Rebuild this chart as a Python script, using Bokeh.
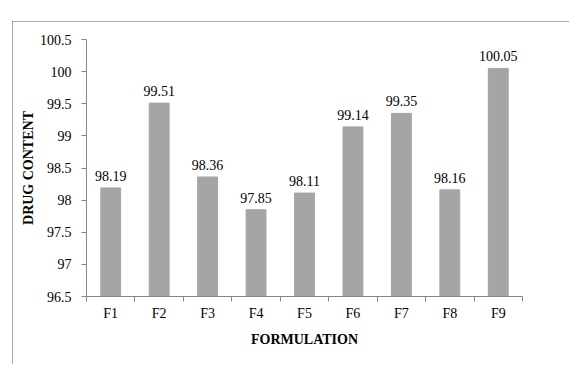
from bokeh.plotting import figure
from bokeh.models import Range1d, FixedTicker, NumeralTickFormatter, ColumnDataSource
from bokeh.core.properties import value
from bokeh.embed import file_html
from bokeh.resources import INLINE

categories = ["F1", "F2", "F3", "F4", "F5", "F6", "F7", "F8", "F9"]
drug_content = [98.19, 99.51, 98.36, 97.85, 98.11, 99.14, 99.35, 98.16, 100.05]
y_ticks = [96.5, 97, 97.5, 98, 98.5, 99, 99.5, 100, 100.5]

FONT = "Liberation Serif"
BAR = "#A5A5A5"
AX = "#868686"

xs = [i + 0.5 for i in range(len(categories))]
src = ColumnDataSource(dict(x=xs, top=drug_content,
                            label=["%.2f" % v for v in drug_content]))

p = figure(width=557, height=343, output_backend="svg", toolbar_location=None,
           x_range=Range1d(0, len(categories)), y_range=Range1d(y_ticks[0], y_ticks[-1]),
           min_border_left=74, min_border_right=47, min_border_top=18, min_border_bottom=68)
p.margin = (21, 0, 0, 12)
p.styles = {"outline": "1px solid #8c8c8c", "outline-offset": "-1px"}
p.outline_line_color = None
p.grid.visible = False
p.background_fill_color = "white"
p.border_fill_color = "white"

p.vbar(x="x", top="top", bottom=y_ticks[0], width=0.41, color=BAR, source=src)
p.text(x="x", y="top", text="label", source=src, text_align="center", text_baseline="bottom",
       y_offset=-7, text_font=value(FONT), text_font_size="14px", text_color="black")

xa = p.xaxis[0]
xa.ticker = FixedTicker(ticks=xs, minor_ticks=list(range(len(categories) + 1)))
xa.major_label_overrides = {x: c for x, c in zip(xs, categories)}
xa.major_tick_line_color = None
xa.major_tick_out = 0
xa.major_tick_in = 0
xa.minor_tick_out = 5
xa.minor_tick_in = 0
xa.minor_tick_line_color = AX
xa.axis_line_color = AX
xa.major_label_standoff = 4
xa.major_label_text_font = FONT
xa.major_label_text_font_size = "14px"
xa.major_label_text_color = "black"
xa.axis_label = "FORMULATION"
xa.axis_label_text_font = FONT
xa.axis_label_text_font_style = "bold"
xa.axis_label_text_font_size = "14px"
xa.axis_label_text_color = "black"
xa.axis_label_standoff = 8

ya = p.yaxis[0]
ya.ticker = FixedTicker(ticks=y_ticks)
ya.formatter = NumeralTickFormatter(format="0.[0]")
ya.major_tick_out = 5
ya.major_tick_in = 0
ya.minor_tick_line_color = None
ya.major_tick_line_color = AX
ya.axis_line_color = AX
ya.major_label_standoff = 10
ya.major_label_text_font = FONT
ya.major_label_text_font_size = "14px"
ya.major_label_text_color = "black"
ya.axis_label = "DRUG CONTENT"
ya.axis_label_text_font = FONT
ya.axis_label_text_font_style = "bold"
ya.axis_label_text_font_size = "14px"
ya.axis_label_text_color = "black"
ya.axis_label_standoff = 1

open("out.html", "w").write(file_html(p, INLINE))
